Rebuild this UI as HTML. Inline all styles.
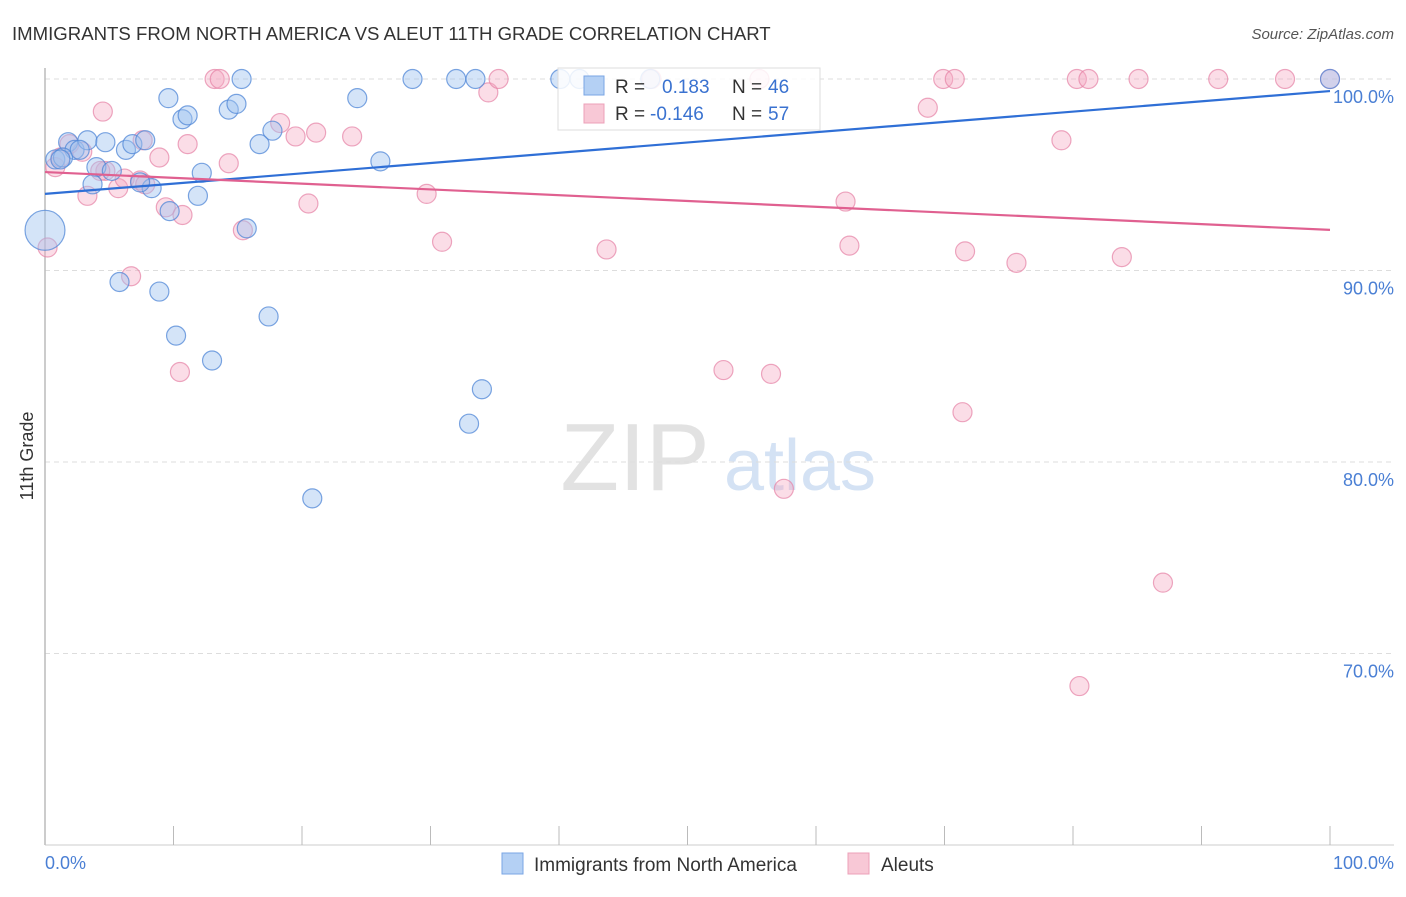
<!DOCTYPE html>
<html><head><meta charset="utf-8"><style>
body{margin:0;background:#fff;font-family:"Liberation Sans",sans-serif;}
svg text{font-family:"Liberation Sans",sans-serif;}
</style></head><body>
<svg id="chart" width="1406" height="892" viewBox="0 0 1406 892" xmlns="http://www.w3.org/2000/svg">
<text x="12" y="40" font-size="18.6" fill="#333">IMMIGRANTS FROM NORTH AMERICA VS ALEUT 11TH GRADE CORRELATION CHART</text>
<text x="1394" y="39" font-size="15" fill="#555" font-style="italic" text-anchor="end">Source: ZipAtlas.com</text>
<g>
<text x="635" y="490" font-size="96" fill="#e2e2e2" font-family="Liberation Serif" text-anchor="middle">ZIP</text>
<text x="800" y="490" font-size="72" fill="#d4e2f4" text-anchor="middle">atlas</text>
</g>
<g id="grid"></g>
<line x1="45" y1="68" x2="45" y2="845" stroke="#bbb" stroke-width="1.5"/>
<line x1="45" y1="845" x2="1394" y2="845" stroke="#ccc" stroke-width="1"/>
<g id="xticks"></g>
<text transform="translate(33,456) rotate(-90)" font-size="18" fill="#333" text-anchor="middle">11th Grade</text>
<text x="45" y="869" font-size="18" fill="#4a7fd4">0.0%</text>
<text x="1394" y="869" font-size="18" fill="#4a7fd4" text-anchor="end">100.0%</text>
<g id="points-pink"></g>
<g id="points-blue"></g>
<g>
<rect x="558" y="68" width="262" height="62" fill="#fff" fill-opacity="0.85" stroke="#ddd"/>
<rect x="584" y="76" width="20" height="19" fill="#b4d0f4" stroke="#7aa6e4"/>
<rect x="584" y="104" width="20" height="19" fill="#f8c8d6" stroke="#eca0b8"/>
<text x="615" y="93" font-size="19" fill="#333">R = </text>
<text x="662" y="93" font-size="19" fill="#3a72d0">0.183</text>
<text x="732" y="93" font-size="19" fill="#333">N = </text>
<text x="768" y="93" font-size="19" fill="#3a72d0">46</text>
<text x="615" y="120" font-size="19" fill="#333">R = </text>
<text x="650" y="120" font-size="19" fill="#3a72d0">-0.146</text>
<text x="732" y="120" font-size="19" fill="#333">N = </text>
<text x="768" y="120" font-size="19" fill="#3a72d0">57</text>
</g>
<g id="trends"></g>
<g>
<rect x="502" y="853" width="21" height="21" fill="#b4d0f4" stroke="#7aa6e4"/>
<text x="534" y="871" font-size="19" fill="#333">Immigrants from North America</text>
<rect x="848" y="853" width="21" height="21" fill="#f8c8d6" stroke="#eca0b8"/>
<text x="881" y="871" font-size="19" fill="#333">Aleuts</text>
</g>
</svg>
<script>
const yTicks=[100,90,80,70];
const yTickLabels=["100.0%","90.0%","80.0%","70.0%"];
const xTicks=[0,10,20,30,40,50,60,70,80,90,100];
const blueX=[0.8,1.8,2.3,3.3,4.0,4.7,5.2,6.3,6.8,7.8,8.3,9.6,10.7,11.1,9.7,12.2,11.9,14.3,14.9,15.3,17.7,16.7,15.7,5.8,8.9,10.2,13.0,17.4,20.8,24.3,26.1,28.6,32.0,33.5,33.0,34.0,40.1,41.6,47.1,100,2.7,7.4,3.7,1.4,1.2,0];
const blueY=[95.8,96.7,96.3,96.8,95.4,96.7,95.2,96.3,96.6,96.8,94.3,99.0,97.9,98.1,93.1,95.1,93.9,98.4,98.7,100,97.3,96.6,92.2,89.4,88.9,86.6,85.3,87.6,78.1,99.0,95.7,100,100,100,82.0,83.8,100,100,100,100,96.3,94.6,94.5,95.9,95.8,92.1];
const blueSize=[1,1,1,1,1,1,1,1,1,1,1,1,1,1,1,1,1,1,1,1,1,1,1,1,1,1,1,1,1,1,1,1,1,1,1,1,1,1,1,1,1,1,1,1,1,2.1];
const pinkX=[0.8,1.9,2.9,3.3,4.5,4.7,5.7,6.2,7.6,7.4,8.9,9.4,10.7,11.1,10.5,6.7,13.2,13.6,14.3,15.4,18.3,19.5,21.1,20.5,23.9,29.7,30.9,34.5,35.3,43.7,47.2,52.8,55.6,56.5,57.5,62.3,62.6,68.7,69.9,70.8,71.6,71.4,75.6,79.1,80.3,81.2,83.8,85.1,87.0,91.3,80.5,96.5,100,0.2,4.3,1.2,7.8];
const pinkY=[95.4,96.6,96.2,93.9,98.3,95.2,94.3,94.8,96.8,94.7,95.9,93.3,92.9,96.6,84.7,89.7,100,100,95.6,92.1,97.7,97.0,97.2,93.5,97.0,94.0,91.5,99.3,100,91.1,100,84.8,100,84.6,78.6,93.6,91.3,98.5,100,100,91.0,82.6,90.4,96.8,100,100,90.7,100,73.7,100,68.3,100,100,91.2,95.2,95.9,94.5];
const blueTrend=[94.0,99.37];
const pinkTrend=[95.14,92.12];
const NS="http://www.w3.org/2000/svg";
const X=v=>45+v*12.85;
const Y=v=>79+(100-v)*19.15;
function mk(tag,attrs,parent){const e=document.createElementNS(NS,tag);for(const k in attrs)e.setAttribute(k,attrs[k]);parent.appendChild(e);return e;}
const grid=document.getElementById('grid');
yTicks.forEach((t,i)=>{
 const l=mk('line',{x1:45,x2:1394,y1:Y(t),y2:Y(t),stroke:'#ddd','stroke-dasharray':'5,4'},grid);
 
 
 const tx=mk('text',{x:1394,y:Y(t)+24,'font-size':18,fill:'#4a7fd4','text-anchor':'end'},grid);
 tx.textContent=yTickLabels[i];
 
 
});
const xt=document.getElementById('xticks');
xTicks.forEach(t=>{
 const l=mk('line',{x1:X(t),x2:X(t),y1:826,y2:845,stroke:'#bbb'},xt);
 
 
});
const pg=document.getElementById('points-pink');
pinkX.forEach((x,i)=>{
 const c=mk('circle',{cx:X(x),cy:Y(pinkY[i]),r:9.5,fill:'rgba(244,170,195,0.4)',stroke:'rgba(230,130,165,0.7)','stroke-width':1.2},pg);
 
 
});
const bg=document.getElementById('points-blue');
blueX.forEach((x,i)=>{
 const c=mk('circle',{cx:X(x),cy:Y(blueY[i]),r:9.5*blueSize[i],fill:'rgba(160,196,240,0.45)',stroke:'rgba(80,135,215,0.75)','stroke-width':1.2},bg);
 
 
});
const tg=document.getElementById('trends');
const bl=mk('line',{x1:X(0),y1:Y(blueTrend[0]),x2:X(100),y2:Y(blueTrend[1]),stroke:'#2f6fd6','stroke-width':2.2},tg);


const pl=mk('line',{x1:X(0),y1:Y(pinkTrend[0]),x2:X(100),y2:Y(pinkTrend[1]),stroke:'#e06090','stroke-width':2.2},tg);


</script>
</body></html>
